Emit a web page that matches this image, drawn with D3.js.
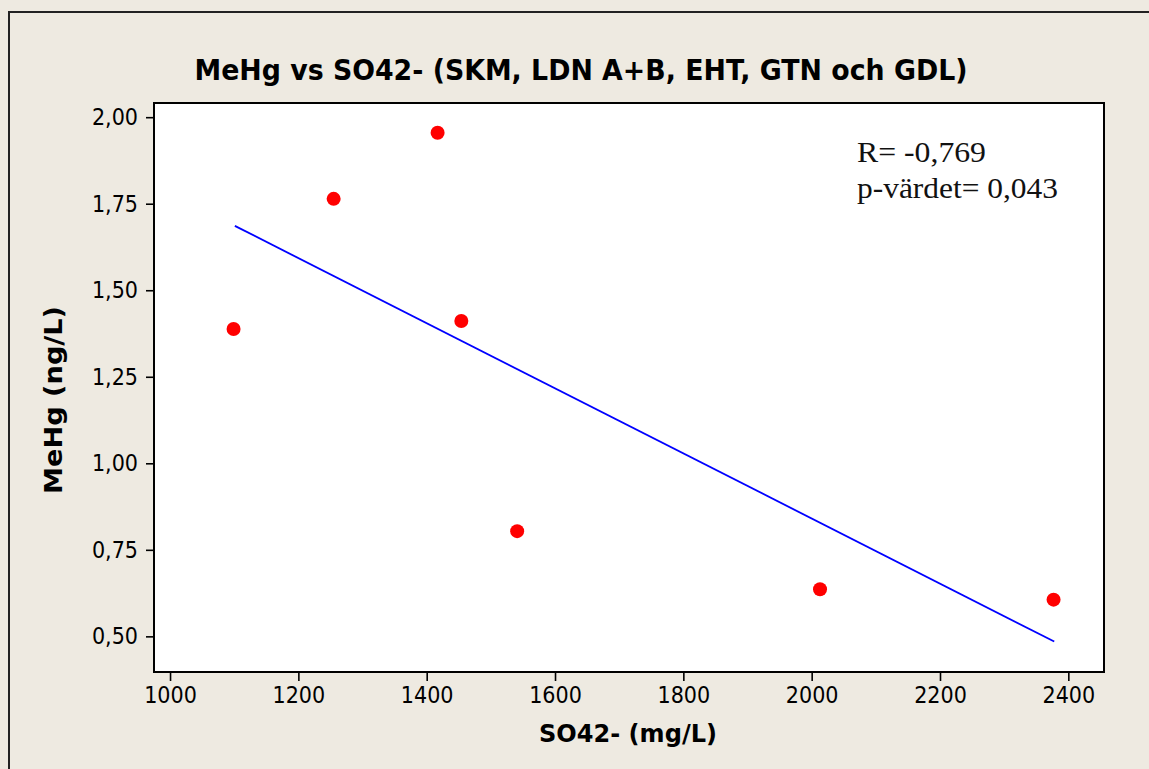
<!DOCTYPE html>
<html>
<head>
<meta charset="utf-8">
<script src="https://cdn.jsdelivr.net/npm/d3@7"></script>
<style>
  html, body { margin: 0; padding: 0; background: #EEEAE1; }
  svg { display: block; }
</style>
</head>
<body>
<svg id="chart" width="1149" height="769"></svg>
<script>
// ---- data ----
const so4 = [1099, 1255, 1417, 1454, 1541, 2013, 2377];
const mehg = [1.388, 1.764, 1.955, 1.411, 0.804, 0.636, 0.606];
const fitX = [1101, 2378];
const fitY = [1.686, 0.485];
const xTicks = [1000, 1200, 1400, 1600, 1800, 2000, 2200, 2400];
const yTicks = [0.50, 0.75, 1.00, 1.25, 1.50, 1.75, 2.00];
const titleText = "MeHg vs SO42- (SKM, LDN A+B, EHT, GTN och GDL)";
const xLabel = "SO42- (mg/L)";
const yLabel = "MeHg (ng/L)";
const statLines = ["R= -0,769", "p-värdet= 0,043"];

// ---- layout ----
const W = 1149, H = 769;
const plot = { left: 154, right: 1104, top: 103, bottom: 672 };

const svg = d3.select("#chart");

svg.append("rect").attr("width", W).attr("height", H).attr("fill", "#EEEAE1");
svg.append("rect")
  .attr("x", 9).attr("y", 12).attr("width", W + 20).attr("height", H + 20)
  .attr("fill", "none").attr("stroke", "#222").attr("stroke-width", 2);

const x = d3.scaleLinear().domain([975, 2455.6]).range([plot.left, plot.right]);
const y = d3.scaleLinear().domain([0.397, 2.041]).range([plot.bottom, plot.top]);

svg.append("rect")
  .attr("x", plot.left).attr("y", plot.top)
  .attr("width", plot.right - plot.left).attr("height", plot.bottom - plot.top)
  .attr("fill", "#fff").attr("stroke", "#000").attr("stroke-width", 2);

const comma = d => d3.format(".2f")(d).replace(".", ",");

const xAxis = d3.axisBottom(x).tickValues(xTicks).tickSize(9).tickPadding(6).tickFormat(d3.format("d"));
const yAxis = d3.axisLeft(y).tickValues(yTicks).tickSize(8).tickPadding(8).tickFormat(comma);

const gx = svg.append("g").attr("transform", `translate(0,${plot.bottom})`).call(xAxis);
const gy = svg.append("g").attr("transform", `translate(${plot.left},0)`).call(yAxis);
[gx, gy].forEach(g => {
  g.select(".domain").remove();
  g.selectAll(".tick line").attr("stroke", "#000").attr("stroke-width", 1.6);
  g.selectAll(".tick text")
    .attr("fill", "#000")
    .style("font-family", "'DejaVu Sans Condensed', 'DejaVu Sans', sans-serif")
    .style("font-size", "23px");
});

svg.append("line")
  .attr("x1", x(fitX[0])).attr("y1", y(fitY[0]))
  .attr("x2", x(fitX[1])).attr("y2", y(fitY[1]))
  .attr("stroke", "#0000FF").attr("stroke-width", 1.8);

svg.append("g").selectAll("circle")
  .data(so4.map((v, i) => [v, mehg[i]]))
  .join("circle")
  .attr("cx", d => x(d[0])).attr("cy", d => y(d[1]))
  .attr("r", 7).attr("fill", "#FF0000");

svg.append("text")
  .attr("x", 581).attr("y", 80)
  .attr("text-anchor", "middle")
  .attr("textLength", 773).attr("lengthAdjust", "spacingAndGlyphs")
  .style("font-family", "'DejaVu Sans', sans-serif")
  .style("font-weight", "bold").style("font-size", "29px")
  .text(titleText);

svg.append("text")
  .attr("x", 628).attr("y", 742)
  .attr("text-anchor", "middle")
  .attr("textLength", 178).attr("lengthAdjust", "spacingAndGlyphs")
  .style("font-family", "'DejaVu Sans', sans-serif")
  .style("font-weight", "bold").style("font-size", "24px")
  .text(xLabel);

svg.append("text")
  .attr("transform", "translate(62,400) rotate(-90)")
  .attr("text-anchor", "middle")
  .attr("textLength", 188).attr("lengthAdjust", "spacingAndGlyphs")
  .style("font-family", "'DejaVu Sans', sans-serif")
  .style("font-weight", "bold").style("font-size", "24px")
  .text(yLabel);

const statLen = [129, 201];
svg.append("g").selectAll("text")
  .data(statLines)
  .join("text")
  .attr("x", 857).attr("y", (d, i) => 162 + i * 36)
  .attr("textLength", (d, i) => statLen[i]).attr("lengthAdjust", "spacingAndGlyphs")
  .style("font-family", "'Liberation Serif', 'Times New Roman', serif")
  .style("font-size", "29px").attr("fill", "#111")
  .text(d => d);
</script>
</body>
</html>
